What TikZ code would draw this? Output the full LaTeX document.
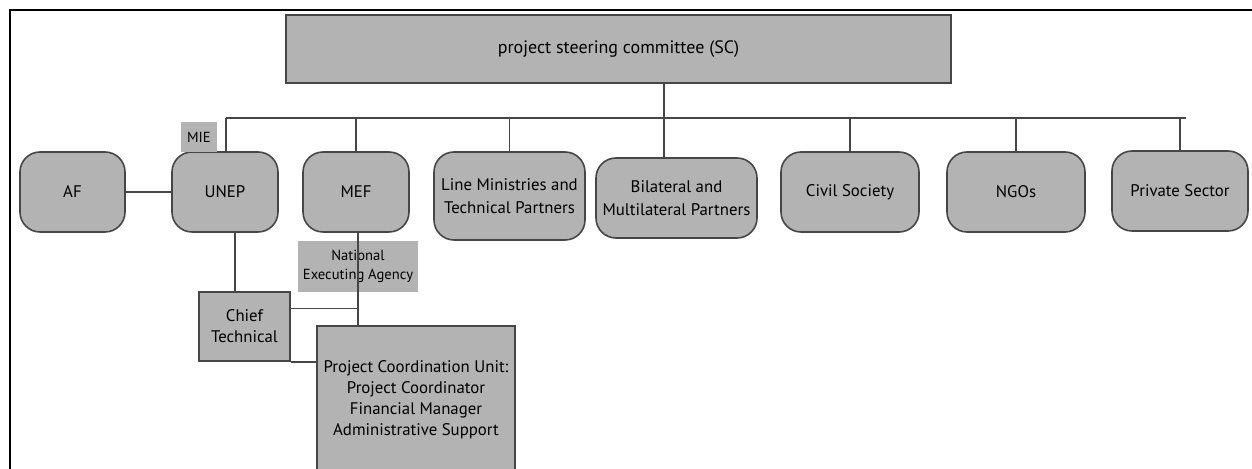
\documentclass[tikz,border=0pt]{standalone}
\usepackage{fontspec}
\setmainfont{PT Sans}
\usetikzlibrary{calc}
\definecolor{boxgray}{RGB}{179,179,179}
\definecolor{edgegray}{RGB}{70,70,70}

\begin{document}
\begin{tikzpicture}[x=0.5pt,y=-0.5pt,
  unit/.style={draw=edgegray,line width=0.8pt,fill=boxgray,rounded corners=10pt,
    minimum height=40pt,align=center,font=\fontsize{8.4}{11.5}\selectfont},
  flat/.style={draw=edgegray,line width=0.8pt,fill=boxgray,align=center,
    font=\fontsize{8.4}{10.5}\selectfont},
  tag/.style={fill=boxgray,inner sep=0pt,align=center,font=\fontsize{7.3}{9.5}\selectfont},
  link/.style={draw=edgegray,line width=0.75pt}]
%picture
\useasboundingbox (0,0) rectangle (1252,469);
\draw [line width=1pt] (10,469)--(10,10)--(1252,10);
\node [flat,minimum width=332.5pt,minimum height=34pt,font=\fontsize{9}{11}\selectfont] (sc) at (618.5,49) {project steering committee (SC)};
\node [unit,minimum width=52.5pt] (af) at (72.5,192) {AF};
\node [unit,minimum width=53pt] (unep) at (225,192) {UNEP};
\node [unit,minimum width=53pt] (mef) at (356,192) {MEF};
\node [unit,minimum width=75.5pt,minimum height=44pt] (lmin) at (509.5,196) {Line Ministries and\\Technical Partners};
\node [unit,minimum width=76.5pt] (bilat) at (676.5,198) {Bilateral and\\Multilateral Partners};
\node [unit,minimum width=69pt] (civil) at (850,192) {Civil Society};
\node [unit,minimum width=69pt] (ngo) at (1016,192) {NGOs};
\node [unit,minimum width=68pt] (priv) at (1180,191) {Private Sector};
\node [tag,minimum width=18pt,minimum height=15pt] (mie) at (199,137) {MIE};
\node [tag,minimum width=60pt,minimum height=25.5pt] (nea) at (358,266.5) {National\\Executing Agency};
\node [flat,minimum width=45.5pt,minimum height=34.5pt] (chief) at (244.5,326.5) {Chief\\Technical};
\node [flat,minimum width=97pt,minimum height=74pt] (pcu) at (416,400) {Project Coordination Unit:\\Project Coordinator\\Financial Manager\\Administrative Support};
% bus
\coordinate (busl) at (226,118);
\coordinate (busr) at (1186,118);
\coordinate (scdrop) at (664,83);
\draw [link] (busl)--(busr);
\draw [link] (scdrop)--(scdrop |- bilat.north);
\draw [link] (busl)--(busl |- unep.north);
\draw [link] (mef.north)--(mef.north |- busl);
\draw [link] (lmin.north)--(lmin.north |- busl);
\draw [link] (civil.north)--(civil.north |- busl);
\draw [link] (ngo.north)--(ngo.north |- busl);
\draw [link] (priv.north)--(priv.north |- busl);
% lower part
\coordinate (udrop) at ($(unep.south)+(10,0)$);
\coordinate (mdrop) at ($(mef.south)+(2,0)$);
\coordinate (ctop) at ($(chief.east)+(0,-18)$);
\draw [link] (af)--(unep);
\draw [link] (udrop)--(udrop |- chief.north);
\draw [link] (mdrop)--(mdrop |- pcu.north);
\draw [link] (ctop)--(ctop -| mdrop);
\draw [link] (chief.south east)--(chief.south east -| pcu.west);
\end{tikzpicture}
\end{document}
